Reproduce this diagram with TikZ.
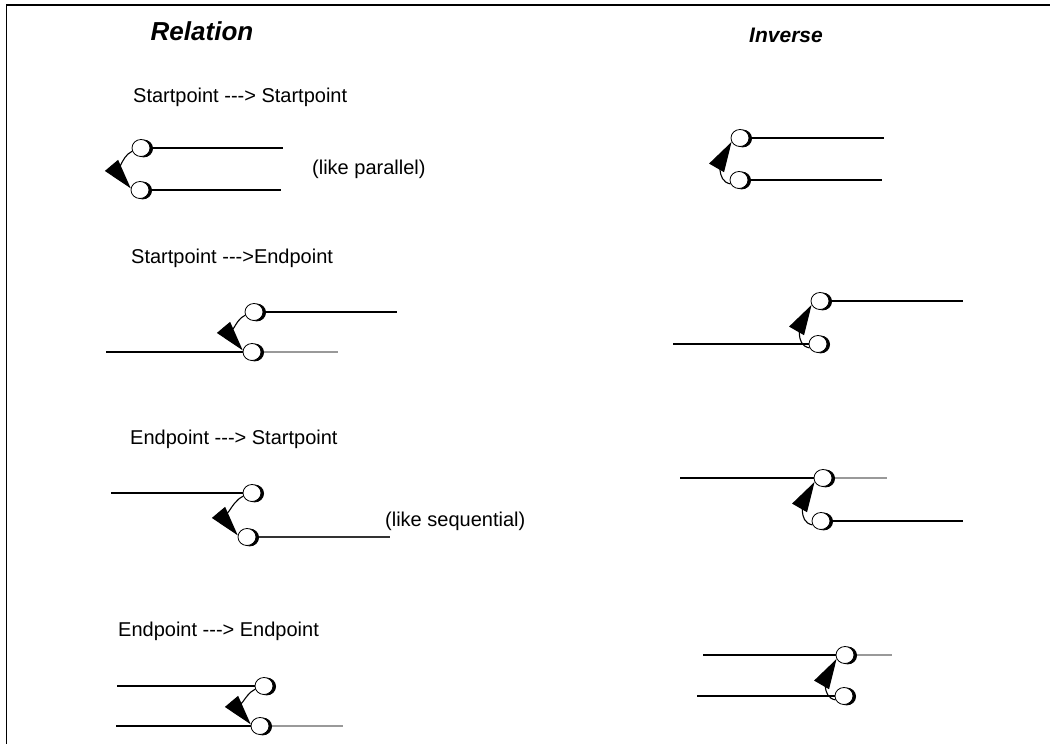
\documentclass[tikz,border=0pt]{standalone}
\usepackage{fontspec}
\setmainfont{Liberation Sans}
\usetikzlibrary{arrows.meta,shapes.geometric}
\begin{document}
\begin{tikzpicture}[x=1pt,y=1pt,
 pin/.style={ellipse, draw=black, line width=0.8pt, fill=white, minimum width=18pt, minimum height=17pt, inner sep=0pt,
   preaction={fill=black, draw=black, transform canvas={xshift=2.6pt, yshift=-0.5pt}}},
 ln/.style={line width=1.2pt, draw=black},
 gl/.style={line width=1.2pt, draw=black!40},
 arr/.style={line width=1.1pt, -{Triangle[length=30pt,width=17pt]}},
 lbl/.style={anchor=west, inner sep=0pt, font=\fontsize{20}{24}\selectfont},
 ttl/.style={inner sep=0pt, font=\fontsize{26}{30}\selectfont\bfseries\itshape}]
\useasboundingbox (0,0) rectangle (1050,744);
% frame
\draw[line width=1.5pt] (6.5,0) -- (6.5,739) -- (1050,739);
% titles
\node[ttl] (tRel) at (202,713) {Relation};
\node[ttl, font=\fontsize{21}{25}\selectfont\bfseries\itshape] (tInv) at (786,709) {Inverse};
% labels
\node[lbl] (l1) at (133,647) {Startpoint -{}-{}-> Startpoint};
\node[lbl] (p1) at (312,575) {(like parallel)};
\node[lbl] (l2) at (131,486) {Startpoint -{}-{}->Endpoint};
\node[lbl] (l3) at (130,305) {Endpoint -{}-{}-> Startpoint};
\node[lbl] (p3) at (385,223) {(like sequential)};
\node[lbl] (l4) at (118,113) {Endpoint -{}-{}-> Endpoint};

% coordinates for free line ends
\coordinate (r1ae) at (283,596);
\coordinate (r1be) at (281,554);
\coordinate (i1ae) at (884,606);
\coordinate (i1be) at (882,564);
\coordinate (r2ae) at (397,432);
\coordinate (r2bs) at (106,392);
\coordinate (r2be) at (338,392);
\coordinate (i2ae) at (963,443);
\coordinate (i2bs) at (673,400);
\coordinate (r3as) at (111,251);
\coordinate (r3be) at (390,207);
\coordinate (i3as) at (680,266);
\coordinate (i3ae) at (887,266);
\coordinate (i3be) at (963,223);
\coordinate (r4as) at (117,58);
\coordinate (r4bs) at (116,18);
\coordinate (r4be) at (343,18);
\coordinate (i4as) at (703,89);
\coordinate (i4ae) at (892,89);
\coordinate (i4bs) at (697,48);

% lines (drawn first)
\draw[ln] (141,596) -- (r1ae);
\draw[ln] (140,554) -- (r1be);
\draw[ln] (740,606) -- (i1ae);
\draw[ln] (739,564) -- (i1be);
\draw[ln] (254,432) -- (r2ae);
\draw[ln] (r2bs) -- (252,392);
\draw[gl] (252,392) -- (r2be);
\draw[ln] (820,443) -- (i2ae);
\draw[ln] (i2bs) -- (818,400);
\draw[ln] (r3as) -- (252,251);
\draw[ln, draw=black!80] (247,207) -- (r3be);
\draw[ln] (i3as) -- (823,266);
\draw[gl] (823,266) -- (i3ae);
\draw[ln] (821,223) -- (i3be);
\draw[ln] (r4as) -- (264,58);
\draw[ln] (r4bs) -- (260,18);
\draw[gl] (260,18) -- (r4be);
\draw[ln] (i4as) -- (845,89);
\draw[gl] (845,89) -- (i4ae);
\draw[ln] (i4bs) -- (844,48);

% pins
\node[pin] (r1a) at (141,596) {};
\node[pin] (r1b) at (140,554) {};
\node[pin] (i1a) at (740,606) {};
\node[pin] (i1b) at (739,564) {};
\node[pin] (r2a) at (254,432) {};
\node[pin] (r2b) at (252,392) {};
\node[pin] (i2a) at (820,443) {};
\node[pin] (i2b) at (818,400) {};
\node[pin] (r3a) at (252,251) {};
\node[pin] (r3b) at (247,207) {};
\node[pin] (i3a) at (823,266) {};
\node[pin] (i3b) at (821,223) {};
\node[pin] (r4a) at (264,58) {};
\node[pin] (r4b) at (260,18) {};
\node[pin] (i4a) at (845,89) {};
\node[pin] (i4b) at (844,48) {};

% arrows
\draw[arr] (r1a.200) to[out=205,in=130] (r1b.170);
\draw[arr] (i1b.205) to[out=170,in=240] (i1a.205);
\draw[arr] (r2a.200) to[out=205,in=130] (r2b.170);
\draw[arr] (i2b.205) to[out=170,in=240] (i2a.205);
\draw[arr] (r3a.200) to[out=205,in=130] (r3b.170);
\draw[arr] (i3b.205) to[out=170,in=240] (i3a.205);
\draw[arr] (r4a.200) to[out=205,in=130] (r4b.170);
\draw[arr] (i4b.205) to[out=170,in=240] (i4a.205);
\end{tikzpicture}
\end{document}
